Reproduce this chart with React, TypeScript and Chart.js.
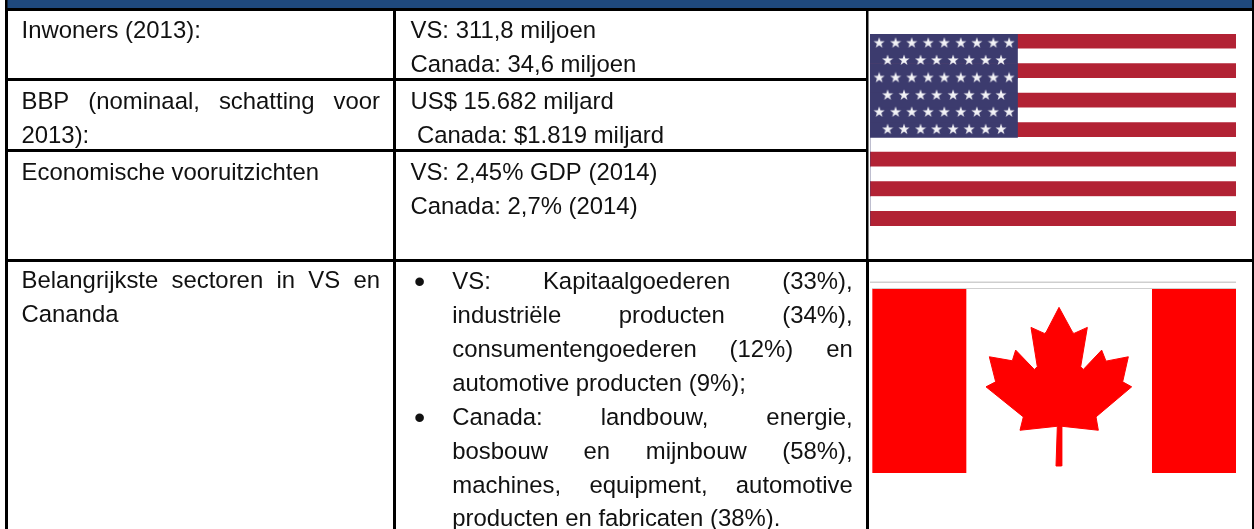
import React, { useEffect, useRef } from "react";
import { Chart, registerables } from "chart.js";

Chart.register(...registerables);

// ---- table content ----
const labelLines = [
  ["Inwoners (2013):"],
  ["BBP (nominaal, schatting voor", "2013):"],
  ["Economische vooruitzichten"],
  ["Belangrijkste sectoren in VS en", "Cananda"],
];
const labelJustified = [[false], [true, false], [false], [true, false]];
const valueLines = [
  ["VS: 311,8 miljoen", "Canada: 34,6 miljoen"],
  ["US$ 15.682 miljard", " Canada: $1.819 miljard"],
  ["VS: 2,45% GDP (2014)", "Canada: 2,7% (2014)"],
];
const bulletLines = [
  "VS: Kapitaalgoederen (33%),",
  "industriële producten (34%),",
  "consumentengoederen (12%) en",
  "automotive producten (9%);",
  "Canada: landbouw, energie,",
  "bosbouw en mijnbouw (58%),",
  "machines, equipment, automotive",
  "producten en fabricaten (38%).",
];
const bulletJustified = [true, true, true, false, true, true, true, false];
const bulletStarts = [0, 4];

// ---- US flag: stripes, canton width and star positions (percent of flag width) ----
const stripeRows = ["1", "2", "3", "4", "5", "6", "7", "8", "9", "10", "11", "12", "13"];
const stripeWidths = [100, 100, 100, 100, 100, 100, 100, 100, 100, 100, 100, 100, 100];
const cantonWidths = [40.3, 40.3, 40.3, 40.3, 40.3, 40.3, 40.3, 0, 0, 0, 0, 0, 0];
const longStarRow = [2.5, 7.0, 11.4, 15.9, 20.3, 24.8, 29.2, 33.7, 38.0];
const shortStarRow = [4.8, 9.3, 13.8, 18.2, 22.7, 27.1, 31.6, 35.8];
const starRowHeights = [0.59, 1.76, 2.94, 4.12, 5.27, 6.44];

// ---- Canadian flag: bands across the width, maple leaf outline ----
const canadaBands = [6, 282, 557, 253];
const leafX = [567, 608, 612, 652, 632, 640, 695, 708, 775, 758, 785, 678, 685, 575, 575, 558, 562, 450, 460, 348, 377, 358, 427, 437, 493, 502, 483, 523, 528, 567];
const leafY = [55, 130, 133, 115, 233, 241, 183, 216, 203, 278, 293, 383, 423, 411, 530, 530, 411, 423, 383, 293, 278, 203, 215, 183, 241, 233, 115, 133, 130, 55];

// ---- colours and layout ----
const INK = "#111111";
const BLUE = "#1F497D";
const RED = "#B22234";
const NAVY = "#3C3B6E";
const FONT = '23.9px "Liberation Sans", Arial, sans-serif';
const BULLET_FONT = '32px "Liberation Sans", Arial, sans-serif';
const columnEdges = [6.25, 394.5, 867, 1253];
const rowEdges = [9.5, 79.5, 150.5, 260.5];
const labelBaselines = [[38], [109, 142.7], [180], [288, 321.7]];
const valueBaselines = [[38, 71.7], [109, 142.7], [180, 214]];
const bulletBaselines = [289.3, 323.3, 356.9, 391, 425, 459, 492.7, 526];

function drawLine(ctx: CanvasRenderingContext2D, text: string, x: number, y: number, right: number, justify: boolean) {
  if (!justify) {
    ctx.fillText(text, x, y);
    return;
  }
  const words = text.split(" ");
  const used = words.reduce((s, w) => s + ctx.measureText(w).width, 0);
  const gap = (right - x - used) / (words.length - 1);
  let cx = x;
  for (const w of words) {
    ctx.fillText(w, cx, y);
    cx += ctx.measureText(w).width + gap;
  }
}

const tablePlugin = {
  id: "table",
  beforeDatasetsDraw(chart: any) {
    const { ctx } = chart;
    const x = chart.scales.x;
    const y = chart.scales.y;
    ctx.save();
    ctx.fillStyle = BLUE;
    ctx.fillRect(x.getPixelForValue(7.5), 0, x.getPixelForValue(1252) - x.getPixelForValue(7.5), y.getPixelForValue(8));
    // the flag column is one merged cell over the first three rows
    ctx.fillStyle = "#FFFFFF";
    ctx.fillRect(868.5, 11, 383.5, 248);
    ctx.fillStyle = "#CFCFCF";
    ctx.fillRect(870, 281.5, 366, 1.5);
    ctx.fillRect(872, 288, 364, 1);
    ctx.restore();
  },
  afterDraw(chart: any) {
    const { ctx } = chart;
    ctx.save();
    ctx.font = FONT;
    ctx.fillStyle = INK;
    ctx.textBaseline = "alphabetic";
    ctx.filter = "blur(0.35px)";
    labelLines.forEach((lines, r) =>
      lines.forEach((t, i) => drawLine(ctx, t, 21.5, labelBaselines[r][i], 380, labelJustified[r][i]))
    );
    valueLines.forEach((lines, r) =>
      lines.forEach((t, i) => {
        const lead = t.startsWith(" ") ? 6.5 : 0;
        drawLine(ctx, t.trim(), 410.5 + lead, valueBaselines[r][i], 850, false);
      })
    );
    bulletLines.forEach((t, i) => drawLine(ctx, t, 452.3, bulletBaselines[i], 852.7, bulletJustified[i]));
    ctx.font = BULLET_FONT;
    ctx.textAlign = "center";
    bulletStarts.forEach((i) => {
      ctx.fillText("\u2022", 419.7, bulletBaselines[i] + 3);
    });
    ctx.restore();
  },
};

function makeStar(): HTMLCanvasElement {
  const c = document.createElement("canvas");
  c.width = 12;
  c.height = 12;
  const g = c.getContext("2d")!;
  g.fillStyle = "#F2F2F6";
  g.beginPath();
  for (let i = 0; i < 10; i++) {
    const r = i % 2 === 0 ? 5.8 : 2.3;
    const a = -Math.PI / 2 + (i * Math.PI) / 5;
    const px = 6 + r * Math.cos(a);
    const py = 6.3 + r * Math.sin(a);
    if (i === 0) g.moveTo(px, py);
    else g.lineTo(px, py);
  }
  g.closePath();
  g.fill();
  return c;
}

const hiddenAxis = { display: false, grid: { display: false } };

export default function App() {
  const tableRef = useRef<HTMLCanvasElement>(null);
  const usRef = useRef<HTMLCanvasElement>(null);
  const caRef = useRef<HTMLCanvasElement>(null);

  useEffect(() => {
    const gridAxis = (edges: number[], min: number, max: number, reverse: boolean) => ({
      type: "linear",
      min,
      max,
      reverse,
      afterBuildTicks: (s: any) => {
        s.ticks = edges.map((value) => ({ value }));
      },
      ticks: { display: false },
      border: { display: false },
      grid: { color: "#000000", lineWidth: 3, drawTicks: false },
    });
    const table = new Chart(tableRef.current!, {
      type: "scatter",
      data: { datasets: [] },
      plugins: [tablePlugin],
      options: {
        animation: false,
        responsive: false,
        events: [],
        layout: { autoPadding: false, padding: { left: 6.25, right: 1, top: 0, bottom: 0 } },
        plugins: { legend: { display: false }, tooltip: { enabled: false } },
        scales: {
          x: gridAxis(columnEdges, 6.25, 1253, false),
          y: gridAxis(rowEdges, 0, 529, true),
        },
      },
    } as any);

    const star = makeStar();
    const starPoints = starRowHeights.flatMap((y, i) =>
      (i % 2 === 0 ? longStarRow : shortStarRow).map((x) => ({ x, y }))
    );
    const us = new Chart(usRef.current!, {
      type: "bar",
      data: {
        labels: stripeRows,
        datasets: [
          {
            type: "scatter",
            indexAxis: "x",
            data: starPoints,
            xAxisID: "x",
            yAxisID: "y2",
            pointStyle: star,
            showLine: false,
            order: 1,
          },
          {
            data: cantonWidths,
            backgroundColor: NAVY,
            grouped: false,
            barPercentage: 1,
            categoryPercentage: 1,
            xAxisID: "x",
            yAxisID: "y",
            order: 2,
          },
          {
            data: stripeWidths,
            backgroundColor: stripeRows.map((_, i) => (i % 2 === 0 ? RED : "#FFFFFF")),
            grouped: false,
            barPercentage: 1,
            categoryPercentage: 1,
            xAxisID: "x",
            yAxisID: "y",
            order: 3,
          },
        ],
      },
      options: {
        indexAxis: "y",
        animation: false,
        responsive: false,
        events: [],
        layout: { autoPadding: false, padding: 0 },
        plugins: { legend: { display: false }, tooltip: { enabled: false } },
        scales: {
          x: { ...hiddenAxis, type: "linear", min: 0, max: 100 },
          y: { ...hiddenAxis, type: "category", offset: true },
          y2: { ...hiddenAxis, type: "linear", axis: "y", min: 0, max: 13, reverse: true, offset: false },
        },
      },
    } as any);

    const ca = new Chart(caRef.current!, {
      type: "bar",
      data: {
        labels: ["vlag"],
        datasets: [
          {
            type: "scatter",
            indexAxis: "x",
            data: leafX.map((x, i) => ({ x, y: leafY[i] })),
            xAxisID: "x",
            yAxisID: "y2",
            showLine: true,
            fill: "shape",
            backgroundColor: "#FF0000",
            borderColor: "#FF0000",
            borderWidth: 1,
            pointRadius: 0,
            tension: 0,
            order: 1,
          },
          ...canadaBands.map((v, i) => ({
            data: [v],
            backgroundColor: i % 2 === 1 ? "#FF0000" : "#FFFFFF",
            stack: "flag",
            grouped: false,
            barPercentage: 1,
            categoryPercentage: 1,
            xAxisID: "x",
            yAxisID: "y",
            order: 2,
          })),
        ],
      },
      options: {
        indexAxis: "y",
        animation: false,
        responsive: false,
        events: [],
        layout: { autoPadding: false, padding: 0 },
        plugins: { legend: { display: false }, tooltip: { enabled: false } },
        scales: {
          x: { ...hiddenAxis, type: "linear", stacked: true, min: 0, max: 1098 },
          y: { ...hiddenAxis, type: "category", stacked: true, offset: true },
          y2: { ...hiddenAxis, type: "linear", axis: "y", min: 0, max: 551, reverse: true, offset: false },
        },
      },
    } as any);

    return () => {
      table.destroy();
      us.destroy();
      ca.destroy();
    };
  }, []);

  return (
    <div style={{ position: "absolute", left: 0, top: 0, width: 1254, height: 529, overflow: "hidden", background: "#fff" }}>
      <canvas ref={tableRef} width={1254} height={529} style={{ position: "absolute", left: 0, top: 0 }} />
      <canvas ref={usRef} width={366} height={192} style={{ position: "absolute", left: 870, top: 34 }} />
      <canvas ref={caRef} width={366} height={184} style={{ position: "absolute", left: 870, top: 289 }} />
    </div>
  );
}
